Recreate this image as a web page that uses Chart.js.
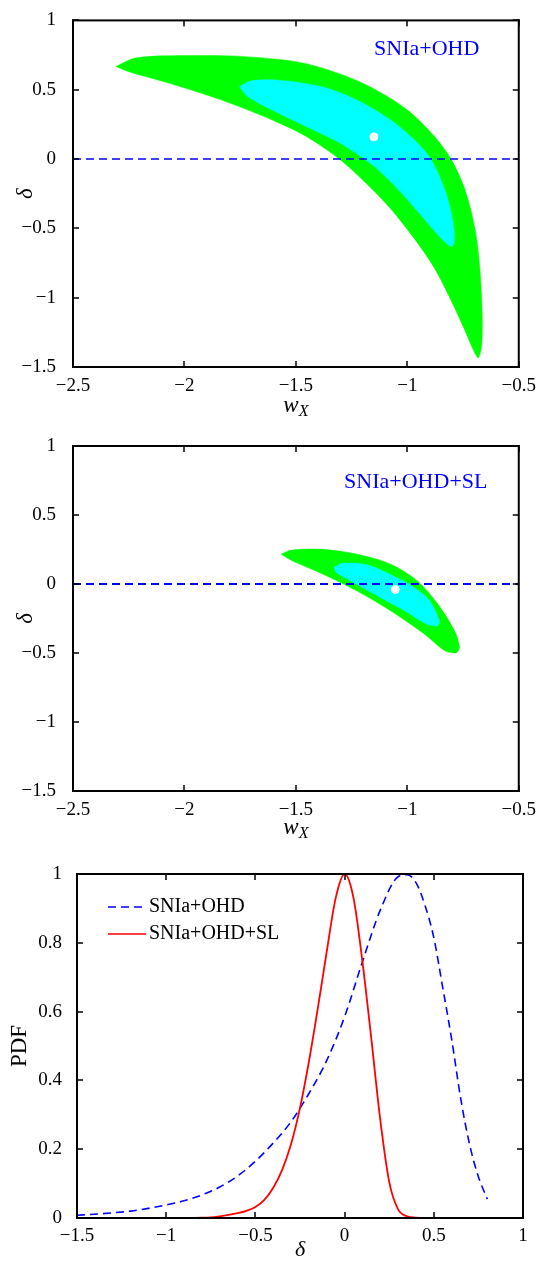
<!DOCTYPE html>
<html>
<head>
<meta charset="utf-8">
<script src="https://cdn.jsdelivr.net/npm/chart.js@4.4.1/dist/chart.umd.min.js"></script>
<style>
  html, body { margin: 0; padding: 0; background: #fff; }
  body { width: 536px; height: 1262px; position: relative; overflow: hidden; }
  .panel { position: absolute; left: 0; width: 536px; }
</style>
</head>
<body>
<div class="panel" style="top:0;height:420px"><canvas id="c1"></canvas></div>
<div class="panel" style="top:420px;height:420px"><canvas id="c2"></canvas></div>
<div class="panel" style="top:840px;height:422px"><canvas id="c3"></canvas></div>
<script>
// tick values
const wxTicks = [-2.5, -2, -1.5, -1, -0.5];
const deltaTicks = [-1.5, -1, -0.5, 0, 0.5, 1];
const pdfXTicks = [-1.5, -1, -0.5, 0, 0.5, 1];
const pdfYTicks = [0, 0.2, 0.4, 0.6, 0.8, 1];

// panel 1: SNIa+OHD, 2 sigma (green) and 1 sigma (cyan) contours
const ohd2Wx = [-2.307, -2.216, -2.003, -1.760, -1.487, -1.305, -1.153, -1.001, -0.880, -0.804, -0.743, -0.697, -0.675, -0.664, -0.667, -0.682, -0.705, -0.743, -0.804, -0.880, -0.971, -1.077, -1.183, -1.305, -1.457, -1.609, -1.836, -2.064, -2.246, -2.307];
const ohd2Delta = [0.668, 0.730, 0.746, 0.742, 0.699, 0.616, 0.509, 0.355, 0.166, 0.0, -0.213, -0.498, -0.782, -1.137, -1.351, -1.434, -1.374, -1.232, -1.019, -0.782, -0.569, -0.355, -0.178, 0.0, 0.166, 0.284, 0.427, 0.545, 0.628, 0.668];
const ohd1Wx = [-1.753, -1.700, -1.578, -1.381, -1.229, -1.077, -0.971, -0.895, -0.834, -0.804, -0.789, -0.796, -0.819, -0.864, -0.940, -1.031, -1.153, -1.305, -1.457, -1.609, -1.715, -1.753];
const ohd1Delta = [0.521, 0.564, 0.569, 0.521, 0.427, 0.284, 0.142, 0.0, -0.213, -0.379, -0.545, -0.628, -0.616, -0.545, -0.403, -0.237, -0.047, 0.118, 0.237, 0.355, 0.450, 0.521];
const ohdBest = [-1.15, 0.16];

// panel 2: SNIa+OHD+SL
const sl2Wx = [-1.566, -1.517, -1.381, -1.229, -1.077, -0.956, -0.864, -0.789, -0.766, -0.781, -0.834, -0.925, -1.077, -1.229, -1.381, -1.502, -1.555, -1.566];
const sl2Delta = [0.217, 0.246, 0.251, 0.217, 0.145, 0.024, -0.144, -0.337, -0.457, -0.498, -0.481, -0.361, -0.192, -0.048, 0.073, 0.157, 0.205, 0.217];
const sl1Wx = [-1.328, -1.290, -1.183, -1.090, -0.995, -0.905, -0.857, -0.864, -0.910, -1.001, -1.123, -1.229, -1.320, -1.328];
const sl1Delta = [0.121, 0.150, 0.140, 0.080, 0.0, -0.110, -0.264, -0.301, -0.293, -0.204, -0.096, 0.0, 0.085, 0.121];
const slBest = [-1.054, -0.04];

// panel 3: marginal PDF of delta
const pdfOhdDelta = [-1.5, -1.4, -1.3, -1.2, -1.1, -1.0, -0.9, -0.8, -0.7, -0.6, -0.5, -0.4, -0.3, -0.2, -0.1, 0.0, 0.1, 0.2, 0.3, 0.35, 0.4, 0.45, 0.5, 0.55, 0.6, 0.65, 0.7, 0.75, 0.8];
const pdfOhd = [0.008, 0.011, 0.015, 0.020, 0.028, 0.038, 0.050, 0.067, 0.090, 0.122, 0.165, 0.218, 0.280, 0.362, 0.458, 0.585, 0.745, 0.895, 0.992, 0.998, 0.975, 0.91, 0.815, 0.67, 0.52, 0.35, 0.215, 0.12, 0.055];
const pdfSlDelta = [-1.5, -1.0, -0.8, -0.75, -0.7, -0.65, -0.6, -0.55, -0.5, -0.45, -0.4, -0.35, -0.3, -0.25, -0.2, -0.15, -0.1, -0.05, 0.0, 0.05, 0.1, 0.15, 0.2, 0.25, 0.3, 0.35, 0.4, 0.45, 0.6, 0.8];
const pdfSl = [0, 0, 0.001, 0.002, 0.005, 0.009, 0.014, 0.021, 0.032, 0.053, 0.088, 0.14, 0.215, 0.32, 0.455, 0.61, 0.775, 0.93, 1.0, 0.93, 0.745, 0.52, 0.285, 0.105, 0.025, 0.005, 0.001, 0, 0, 0];

const pts = (xs, ys) => xs.map((x, i) => ({ x, y: ys[i] }));
const minus = v => String(v).replace('-', '\u2212');

Chart.defaults.font.family = '"Liberation Serif", "Times New Roman", serif';
Chart.defaults.color = '#000';

// matlab style box with inward ticks on all four sides, plus extra texts
const matlabAxes = {
  id: 'matlabAxes',
  afterDraw(chart, args, opts) {
    const { ctx, chartArea: a, scales } = chart;
    ctx.save();
    ctx.fillStyle = '#000';
    // inward ticks
    scales.x.ticks.forEach(t => {
      const px = Math.round(scales.x.getPixelForValue(t.value));
      ctx.fillRect(px - 0.75, a.bottom - 6, 1.5, 6);
      ctx.fillRect(px - 0.75, a.top, 1.5, 6);
    });
    scales.y.ticks.forEach(t => {
      const py = Math.round(scales.y.getPixelForValue(t.value));
      ctx.fillRect(a.left, py - 0.75, 6, 1.5);
      ctx.fillRect(a.right - 6, py - 0.75, 6, 1.5);
    });
    // box
    const k = 2;
    const w = a.right - a.left, h = a.bottom - a.top;
    ctx.fillRect(a.left - k / 2, a.top - k / 2, w + k, k);
    ctx.fillRect(a.left - k / 2, a.bottom - k / 2, w + k, k);
    ctx.fillRect(a.left - k / 2, a.top - k / 2, k, h + k);
    ctx.fillRect(a.right - k / 2, a.top - k / 2, k, h + k);

    if (opts.note) {
      ctx.fillStyle = '#0000ff';
      ctx.font = '22px "Liberation Serif"';
      ctx.textAlign = 'center';
      ctx.textBaseline = 'middle';
      ctx.fillText(opts.note, scales.x.getPixelForValue(opts.noteAt[0]), scales.y.getPixelForValue(opts.noteAt[1]));
    }
    if (opts.wx) {
      // w with subscript X
      const cx = (a.left + a.right) / 2;
      const y = opts.wx;
      ctx.fillStyle = '#000';
      ctx.textBaseline = 'alphabetic';
      ctx.font = 'italic 23px "Liberation Serif"';
      const ww = ctx.measureText('w').width;
      ctx.font = 'italic 16px "Liberation Serif"';
      const xw = ctx.measureText('X').width;
      const x0 = cx - (ww + xw) / 2;
      ctx.font = 'italic 23px "Liberation Serif"';
      ctx.textAlign = 'left';
      ctx.fillText('w', x0, y);
      ctx.font = 'italic 16px "Liberation Serif"';
      ctx.fillText('X', x0 + ww, y + 4);
    }
    if (opts.legend) {
      ctx.font = '20px "Liberation Serif"';
      ctx.textAlign = 'left';
      ctx.textBaseline = 'middle';
      opts.legend.forEach(item => {
        ctx.strokeStyle = item.color;
        ctx.lineWidth = 1.6;
        ctx.setLineDash(item.dash);
        ctx.beginPath();
        ctx.moveTo(108, item.y);
        ctx.lineTo(146, item.y);
        ctx.stroke();
        ctx.setLineDash([]);
        ctx.fillStyle = '#000';
        ctx.fillText(item.label, 149, item.y);
      });
    }
    ctx.restore();
  }
};

function contourChart(id, green, cyan, best, note, noteAt, pad) {
  return new Chart(document.getElementById(id), {
    type: 'scatter',
    data: {
      datasets: [
        { data: [{ x: best[0], y: best[1] }], pointRadius: 4, pointBackgroundColor: '#fff', pointBorderColor: '#fff', pointBorderWidth: 1, order: 0 },
        { data: [{ x: wxTicks[0], y: 0 }, { x: wxTicks[wxTicks.length - 1], y: 0 }], showLine: true, pointRadius: 0, borderColor: '#0000ff', borderWidth: pad.dashW, borderDash: [8, 5], order: 1 },
        { data: cyan, showLine: true, fill: 'shape', backgroundColor: '#00ffff', borderColor: '#00ffff', borderWidth: 0.5, pointRadius: 0, tension: 0.3, order: 2 },
        { data: green, showLine: true, fill: 'shape', backgroundColor: '#00ff00', borderColor: '#00ff00', borderWidth: 0.5, pointRadius: 0, tension: 0.3, order: 3 }
      ]
    },
    options: {
      responsive: true,
      maintainAspectRatio: false,
      animation: false,
      events: [],
      layout: { padding: { top: pad.top, right: 13, bottom: 0, left: 0 }, autoPadding: false },
      plugins: {
        legend: { display: false },
        tooltip: { enabled: false },
        matlabAxes: { note, noteAt, wx: pad.wx }
      },
      scales: {
        x: {
          type: 'linear', min: -2.5, max: -0.5,
          afterBuildTicks: s => { s.ticks = wxTicks.map(v => ({ value: v })); },
          afterFit: s => { s.height = pad.xh; },
          grid: { display: false },
          border: { display: false },
          ticks: { padding: pad.xtp, font: { size: 19 }, maxRotation: 0, callback: minus }
        },
        y: {
          type: 'linear', min: -1.5, max: 1,
          afterBuildTicks: s => { s.ticks = deltaTicks.map(v => ({ value: v })); },
          afterFit: s => { s.width = 73; },
          grid: { display: false },
          border: { display: false },
          ticks: { padding: 9, font: { size: 19 }, callback: minus },
          title: { display: true, text: 'δ', font: { size: 23, style: 'italic', lineHeight: 1.2 }, padding: { top: 12, bottom: 0 } }
        }
      }
    },
    plugins: [matlabAxes]
  });
}

contourChart('c1', pts(ohd2Wx, ohd2Delta), pts(ohd1Wx, ohd1Delta), ohdBest,
  'SNIa+OHD', [-0.913, 0.793], { top: 17, xh: 53, xtp: 0, wx: 412, dashW: 1.5 });
contourChart('c2', pts(sl2Wx, sl2Delta), pts(sl1Wx, sl1Delta), slBest,
  'SNIa+OHD+SL', [-0.962, 0.739], { top: 26, xh: 49, xtp: 0, wx: 414, dashW: 2 });

new Chart(document.getElementById('c3'), {
  type: 'scatter',
  data: {
    datasets: [
      { label: 'SNIa+OHD+SL', data: pts(pdfSlDelta, pdfSl), showLine: true, pointRadius: 0, borderColor: '#ff0000', borderWidth: 1.8, cubicInterpolationMode: 'monotone', clip: 4, order: 0 },
      { label: 'SNIa+OHD', data: pts(pdfOhdDelta, pdfOhd), showLine: true, pointRadius: 0, borderColor: '#0000ff', borderWidth: 1.6, borderDash: [8, 5], cubicInterpolationMode: 'monotone', order: 1 }
    ]
  },
  options: {
    responsive: true,
    maintainAspectRatio: false,
    animation: false,
    events: [],
    layout: { padding: { top: 34, right: 13, bottom: 0, left: 0 }, autoPadding: false },
    plugins: {
      legend: { display: false },
      tooltip: { enabled: false },
      matlabAxes: {
        legend: [
          { label: 'SNIa+OHD', color: '#0000ff', dash: [8, 5], y: 67 },
          { label: 'SNIa+OHD+SL', color: '#ff0000', dash: [], y: 94 }
        ]
      }
    },
    scales: {
      x: {
        type: 'linear', min: -1.5, max: 1,
        afterBuildTicks: s => { s.ticks = pdfXTicks.map(v => ({ value: v })); },
        afterFit: s => { s.height = 44; },
        grid: { display: false },
        border: { display: false },
        ticks: { padding: -1, font: { size: 19 }, maxRotation: 0, callback: minus },
        title: { display: true, text: 'δ', font: { size: 22, style: 'italic', lineHeight: 1.0 }, padding: { top: 0, bottom: 1 } }
      },
      y: {
        type: 'linear', min: 0, max: 1,
        afterBuildTicks: s => { s.ticks = pdfYTicks.map(v => ({ value: v })); },
        afterFit: s => { s.width = 77; },
        grid: { display: false },
        border: { display: false },
        ticks: { padding: 7, font: { size: 19 }, callback: minus },
        title: { display: true, text: 'PDF', font: { size: 23, lineHeight: 1.2 }, padding: { top: 6, bottom: 0 } }
      }
    }
  },
  plugins: [matlabAxes]
});
</script>
</body>
</html>
